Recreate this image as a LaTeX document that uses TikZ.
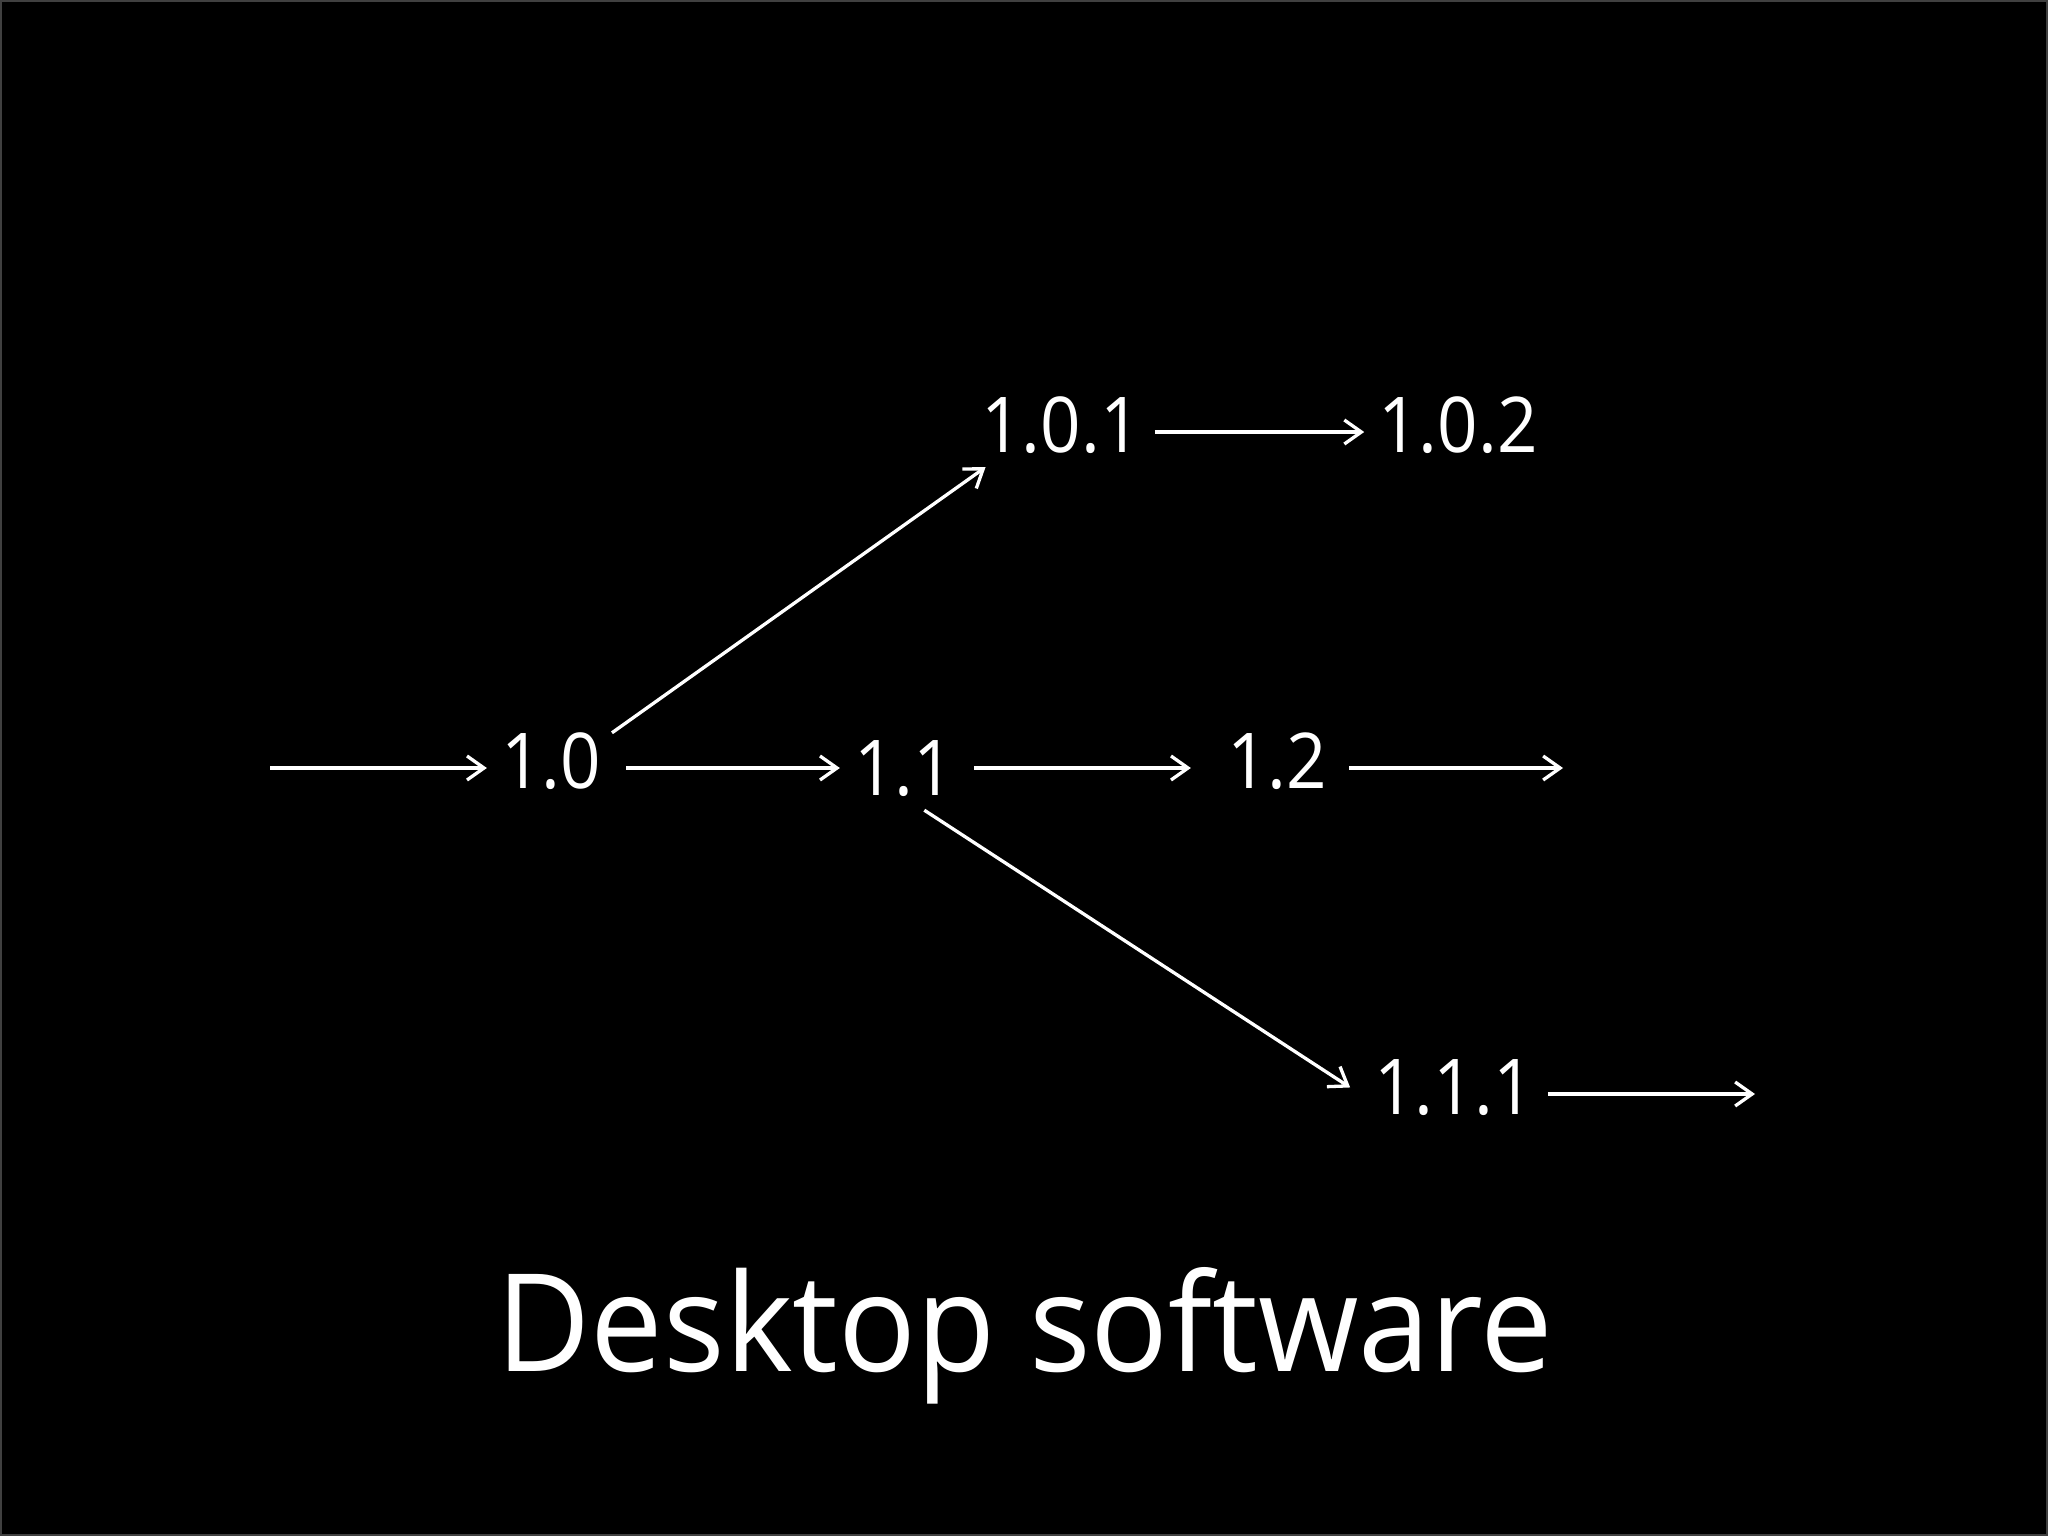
\documentclass[tikz,border=0pt]{standalone}
\usepackage{fontspec}
\setmainfont{Open Sans}[Ligatures=NoCommon]
\newfontfamily\verfont{Open Sans}[FakeStretch=0.92]
\newfontfamily\ttlfont{Open Sans}[FakeStretch=0.95,Ligatures=NoCommon]
\usetikzlibrary{arrows.meta}
\tikzset{
  ver/.style={text=white, inner xsep=14pt, inner ysep=0pt, text depth=15pt, text height=55pt, anchor=base,
    font=\verfont\fontsize{77}{90}\selectfont},
  conn/.style={draw=white, line width=3.3pt, -{Straight Barb[length=17pt,width=24pt]}},
  ttl/.style={text=white, inner sep=0pt, anchor=base, font=\ttlfont\fontsize{136}{160}\selectfont}
}
\begin{document}
\begin{tikzpicture}[x=1pt,y=-1pt]
\fill[black] (0,0) rectangle (2048,1536);
\draw[color=black!75!white, line width=2pt] (1,1) rectangle (2047,1535);
\useasboundingbox (0,0) rectangle (2048,1536);
% nodes (anchor base at baselines)
\node[ver] (n10) at (551,788) {1.0};
\node[ver] (n11) at (904,795) {1.1};
\node[ver] (n12) at (1277,788) {1.2};
\node[ver] (n101) at (1061,452) {1.0.1};
\node[ver] (n102) at (1458,452) {1.0.2};
\node[ver] (n111) at (1454,1114) {1.1.1};
\coordinate (in0) at (270,768);
\coordinate (out12) at (1563,768);
\coordinate (out111) at (1755,1094);
\node[ttl] (title) at (1025,1371) {Desktop software};
% connectors
\draw[conn] (in0) -- (n10.west |- in0);
\draw[conn, shorten <=11pt] (n10.east |- in0) -- (n11.west |- in0);
\draw[conn, shorten <=6pt, shorten >=22pt] (n11.east |- in0) -- (n12.west |- in0);
\draw[conn, shorten <=8pt] (n12.east |- in0) -- (out12);
\draw[conn] (n10.30) -- (n101.205);
\draw[conn] (n101.east) -- (n102.west);
\draw[conn, shorten >=12pt] (n11.-60) -- (n111.west);
\draw[conn] (n111.east) -- (out111);
\end{tikzpicture}
\end{document}
